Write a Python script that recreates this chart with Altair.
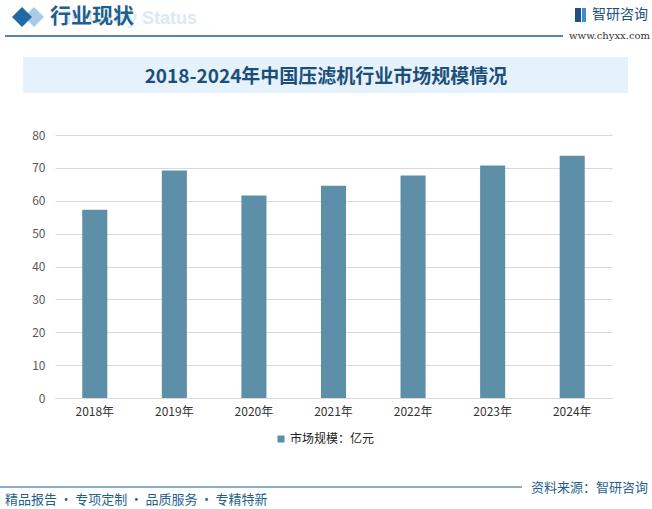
import altair as alt
import pandas as pd

years = ["2018年", "2019年", "2020年", "2021年", "2022年", "2023年", "2024年"]
values = [57.3, 69.2, 61.6, 64.6, 67.7, 70.7, 73.7]
series_name = "市场规模：亿元"
title_text = "2018-2024年中国压滤机行业市场规模情况"

df = pd.DataFrame({"year": years, "value": values, "series": [series_name] * len(years)})

FONT = "Noto Sans CJK SC"
BLUE = "#1f5f8b"
BAR = "#5d90a8"

W, H = 557, 263  # plot area (left 55, top 135)

bars = alt.Chart(df).mark_bar(color=BAR).encode(
    x=alt.X("year:N", sort=years, title=None,
            scale=alt.Scale(paddingInner=0.685, paddingOuter=0.3425),
            axis=alt.Axis(labelAngle=0, labelFont=FONT, labelFontSize=12, labelColor="#333333",
                          ticks=False, domainColor="#d9d9d9", labelPadding=8, grid=False)),
    y=alt.Y("value:Q", title=None,
            scale=alt.Scale(domain=[0, 80]),
            axis=alt.Axis(values=list(range(0, 81, 10)), labelFont=FONT, labelFontSize=12,
                          labelColor="#595959", ticks=False, domain=False, labelPadding=10,
                          gridColor="#d9d9d9", gridWidth=1)),
    color=alt.Color("series:N", scale=alt.Scale(domain=[series_name], range=[BAR]),
                    legend=alt.Legend(title=None, orient="none", legendX=220, legendY=298,
                                      symbolType="square", symbolSize=50, labelFont=FONT,
                                      labelFontSize=12, labelColor="#222222", symbolStrokeWidth=0,
                                      labelOffset=3)),
)

one = pd.DataFrame({"k": [0]})
base = alt.Chart(one)

title_bg = base.mark_rect(color="#e6f2fb").encode(
    x=alt.value(-32), x2=alt.value(573), y=alt.value(-78), y2=alt.value(-42))
title = base.mark_text(text=title_text, font=FONT, fontSize=19, fontWeight="bold",
                       color="#1b4f7a", align="center", baseline="middle").encode(
    x=alt.value(271), y=alt.value(-58))

hdr_ghost = base.mark_text(text="Industry Status", font="Liberation Sans", fontSize=18,
                           fontWeight="bold", color="#dbe9f4", align="right", baseline="middle").encode(
    x=alt.value(142), y=alt.value(-116))
diamond2 = base.mark_point(shape="diamond", filled=True, size=400, color="#a9cbe6", opacity=1).encode(
    x=alt.value(-21), y=alt.value(-118))
diamond = base.mark_point(shape="diamond", filled=True, size=400, color="#1f6aa5", opacity=1).encode(
    x=alt.value(-33), y=alt.value(-118))
hdr = base.mark_text(text="行业现状", font=FONT, fontSize=21, fontWeight="bold", color=BLUE,
                     align="left", baseline="middle").encode(x=alt.value(-5), y=alt.value(-118))
hdr_line = base.mark_rule(color=BLUE, strokeWidth=1.5).encode(
    x=alt.value(-50), x2=alt.value(508), y=alt.value(-99))

logo_sq1 = base.mark_rect(color="#1f4f85").encode(
    x=alt.value(520), x2=alt.value(526), y=alt.value(-127), y2=alt.value(-113))
logo_sq2 = base.mark_rect(color="#3a8fd0").encode(
    x=alt.value(527), x2=alt.value(531), y=alt.value(-127), y2=alt.value(-113))
logo = base.mark_text(text="智研咨询", font=FONT, fontSize=14, color="#1a4f80",
                      align="left", baseline="middle").encode(x=alt.value(537), y=alt.value(-120))
url = base.mark_text(text="www.chyxx.com", font="DejaVu Serif", fontSize=10, color="#333333",
                     align="right", baseline="middle").encode(x=alt.value(595), y=alt.value(-99))

foot_line = base.mark_rule(color=BLUE, strokeWidth=1.2).encode(
    x=alt.value(-55), x2=alt.value(467), y=alt.value(352))
foot_left = base.mark_text(text="精品报告\u2009·\u2009专项定制\u2009·\u2009品质服务\u2009·\u2009专精特新", font=FONT, fontSize=13,
                           color=BLUE, align="left", baseline="middle").encode(
    x=alt.value(-50), y=alt.value(365))
foot_right = base.mark_text(text="资料来源：智研咨询", font=FONT, fontSize=13, color=BLUE,
                            align="right", baseline="middle").encode(x=alt.value(593), y=alt.value(353))

chart = alt.layer(
    title_bg, bars, title, hdr_ghost, diamond2, diamond, hdr, hdr_line,
    logo_sq1, logo_sq2, logo, url, foot_line, foot_left, foot_right
).properties(
    width=W, height=H,
    autosize=alt.AutoSizeParams(type="none"),
    padding={"left": 55, "top": 135, "right": 40, "bottom": 111},
    background="white",
).configure_view(stroke=None)

chart.save("out.html", embed_options={"renderer": "svg", "actions": False})
